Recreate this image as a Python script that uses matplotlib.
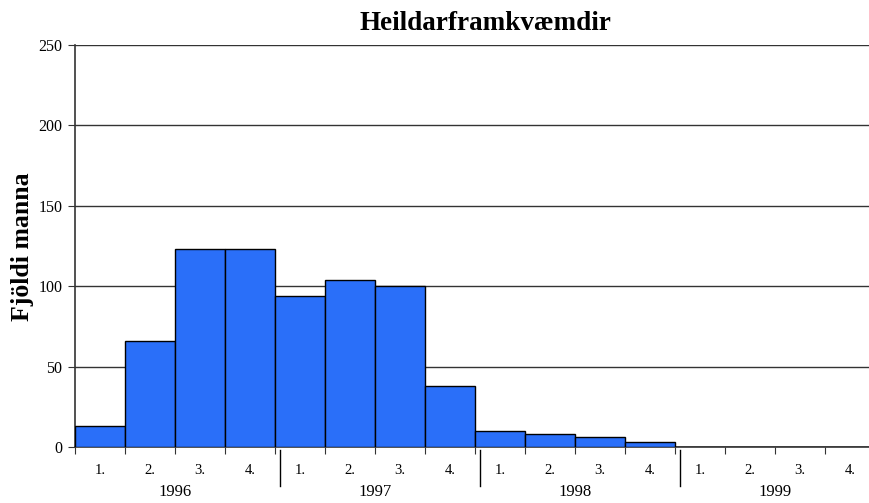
import numpy as np
import matplotlib
matplotlib.use("Agg")
import matplotlib.pyplot as plt

plt.rcParams['font.family'] = ['Liberation Serif', 'DejaVu Serif']

years = ['1996', '1997', '1998', '1999']
quarters = ['1.', '2.', '3.', '4.']
values = [13, 66, 123, 123, 94, 104, 100, 38, 10, 8, 6, 3, 0, 0, 0, 0]

fig = plt.figure(figsize=(8.69, 5.03), dpi=100)
ax = fig.add_axes([75 / 869, 56 / 503, 800 / 869, 402 / 503])

x = np.arange(len(values))
ax.bar(x, values, width=1.0, align='edge', color='#2a6ff9',
       edgecolor='black', linewidth=1.0, zorder=3)

ax.set_xlim(0, len(values))
ax.set_ylim(0, 250)
ax.set_yticks(np.arange(0, 251, 50))
ax.yaxis.grid(True, color='#333333', linewidth=1.0, zorder=0)
ax.tick_params(axis='y', labelsize=11.5, length=5, direction='out', color='#333333', pad=4)

ax.set_xticks(np.arange(len(values) + 1))
ax.set_xticklabels([])
ax.tick_params(axis='x', length=5, direction='out', color='#333333')

for s in ['top', 'right']:
    ax.spines[s].set_visible(False)
for s in ['left', 'bottom']:
    ax.spines[s].set_color('#333333')
    ax.spines[s].set_linewidth(1.2)

trans = ax.get_xaxis_transform()
for i in range(len(values)):
    ax.text(i + 0.5, -23 / 402, quarters[i % 4], transform=trans,
            ha='center', va='center', fontsize=10.5)
for k, y in enumerate(years):
    ax.text(k * 4 + 2, -45 / 402, y, transform=trans,
            ha='center', va='center', fontsize=12)
for k in range(1, len(years)):
    ax.plot([k * 4 + 0.1] * 2, [-3 / 402, -39 / 402], transform=trans,
            color='black', linewidth=1.0, clip_on=False)

fig.text(485.5 / 869, 1 - 23 / 503, 'Heildarframkvæmdir', ha='center', va='center',
         fontsize=19.5, fontweight='bold')
fig.text(23 / 869, 1 - 247 / 503, 'Fjöldi manna', ha='center', va='center',
         rotation=90, fontsize=18.5, fontweight='bold')

fig.savefig('out.png', dpi=100)
